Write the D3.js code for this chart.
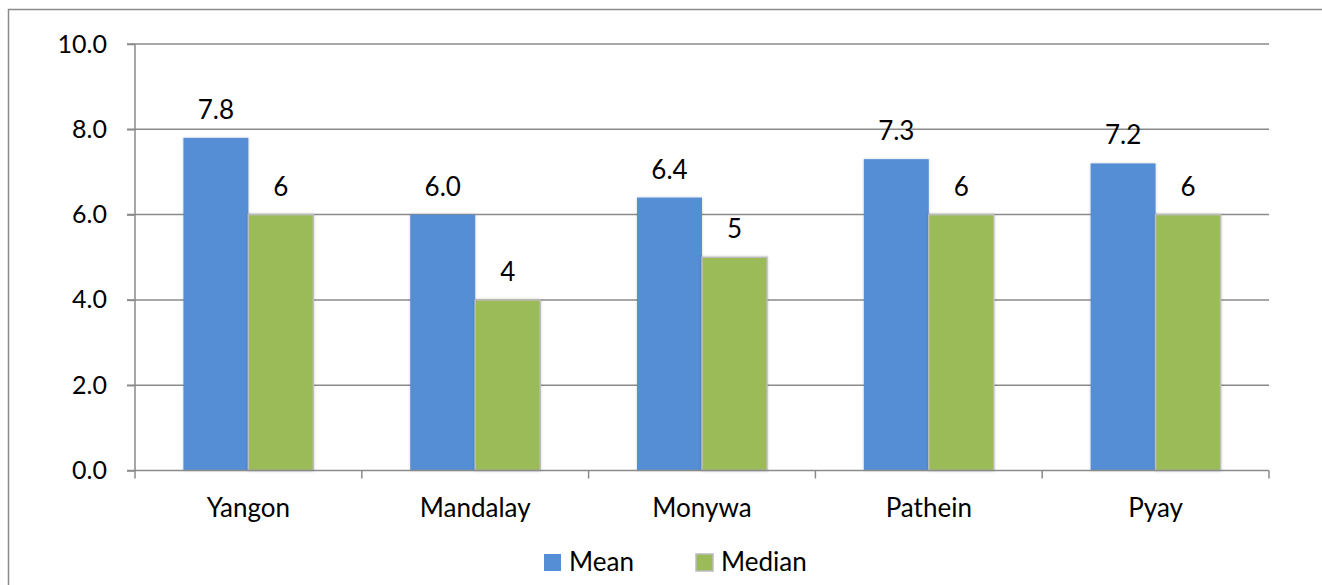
<!DOCTYPE html>
<html>
<head>
<meta charset="utf-8">
<script src="https://cdn.jsdelivr.net/npm/d3@7"></script>
<style>
  html, body { margin: 0; padding: 0; background: #fff; }
  svg { display: block; }
  text { font-family: Lato, "Open Sans", sans-serif; fill: #000; }
</style>
</head>
<body>
<svg id="chart" width="1322" height="585"></svg>
<script>
// Household size by city
const cities = ["Yangon", "Mandalay", "Monywa", "Pathein", "Pyay"];
const meanValues = [7.8, 6.0, 6.4, 7.3, 7.2];
const medianValues = [6, 4, 5, 6, 6];
const seriesNames = ["Mean", "Median"];
const yTicks = [0, 2, 4, 6, 8, 10];

const seriesColors = ["#558ed5", "#9bbb59"];
const seriesStroke = [null, "#bcbcbc"];
const labelFormat = [d3.format(".1f"), d3.format("d")];

const svg = d3.select("#chart");
const W = 1322, H = 585;
const plot = { left: 135, right: 1269, top: 44, bottom: 470.5 };

// Outer chart frame
svg.append("rect")
  .attr("x", 8.5).attr("y", 9.5)
  .attr("width", W).attr("height", H)
  .attr("fill", "none")
  .attr("stroke", "#8a8a8a")
  .attr("stroke-width", 1.5);

// Soft drop shadow used by the bars
const defs = svg.append("defs");
const f = defs.append("filter").attr("id", "barShadow")
  .attr("x", "-20%").attr("y", "-5%").attr("width", "140%").attr("height", "110%");
f.append("feGaussianBlur").attr("in", "SourceAlpha").attr("stdDeviation", 1.6).attr("result", "b");
f.append("feComponentTransfer").attr("in", "b").attr("result", "s")
  .append("feFuncA").attr("type", "linear").attr("slope", 0.18);
const m = f.append("feMerge");
m.append("feMergeNode").attr("in", "s");
m.append("feMergeNode").attr("in", "SourceGraphic");

const x = d3.scaleBand().domain(cities).range([plot.left, plot.right]).paddingInner(0).paddingOuter(0);
const inner = d3.scaleBand().domain(seriesNames).range([0, x.bandwidth()]).paddingInner(0).paddingOuter(0.745);
const y = d3.scaleLinear().domain([0, 10]).range([plot.bottom, plot.top]);

// Horizontal gridlines
svg.append("g").selectAll("line").data(yTicks.filter(d => d > 0)).join("line")
  .attr("x1", plot.left - 8).attr("x2", plot.right)
  .attr("y1", d => y(d)).attr("y2", d => y(d))
  .attr("stroke", "#8a8a8a").attr("stroke-width", 1.5);

// Y axis
const yAxis = svg.append("g").attr("transform", `translate(${plot.left},0)`)
  .call(d3.axisLeft(y).tickValues(yTicks).tickFormat(d3.format(".1f")).tickSize(8).tickPadding(20));
yAxis.select(".domain").attr("stroke", "#8a8a8a").attr("stroke-width", 1.5)
  .attr("d", `M0,${plot.top}V${plot.bottom}`);
yAxis.selectAll(".tick line").attr("stroke", "#8a8a8a").attr("stroke-width", 1.5);
yAxis.selectAll(".tick text").style("font-size", "25px").attr("fill", "#000")
  .style("font-family", "Lato, 'Open Sans', sans-serif");

// Bars
const groups = svg.append("g").selectAll("g").data(cities).join("g")
  .attr("transform", d => `translate(${x(d)},0)`);

const barData = (c, i) => [meanValues[i], medianValues[i]].map((v, k) => ({ series: seriesNames[k], k, v }));

groups.selectAll("rect").data((c, i) => barData(c, i)).join("rect")
  .attr("x", d => inner(d.series))
  .attr("y", d => y(d.v))
  .attr("width", inner.bandwidth())
  .attr("height", d => y(0) - y(d.v))
  .attr("fill", d => seriesColors[d.k])
  .attr("stroke", d => seriesStroke[d.k] || "none")
  .attr("stroke-width", 1.5)
  .attr("filter", "url(#barShadow)");

// Value labels
groups.selectAll("text.val").data((c, i) => barData(c, i)).join("text")
  .attr("class", "val")
  .attr("x", d => inner(d.series) + inner.bandwidth() / 2)
  .attr("y", d => y(d.v) - 19)
  .attr("text-anchor", "middle")
  .style("font-size", "26px")
  .text(d => labelFormat[d.k](d.v));

// X axis baseline with category ticks
const xAxis = svg.append("g").attr("transform", `translate(0,${plot.bottom})`);
xAxis.append("line").attr("x1", plot.left - 8).attr("x2", plot.right)
  .attr("stroke", "#8a8a8a").attr("stroke-width", 1.5);
const edges = cities.map(c => x(c)).concat([x(cities[cities.length - 1]) + x.bandwidth()]);
xAxis.selectAll("line.tk").data(edges).join("line").attr("class", "tk")
  .attr("x1", d => d).attr("x2", d => d).attr("y1", 0).attr("y2", 8)
  .attr("stroke", "#8a8a8a").attr("stroke-width", 1.5);
xAxis.selectAll("text").data(cities).join("text")
  .attr("x", d => x(d) + x.bandwidth() / 2)
  .attr("y", 46.5)
  .attr("text-anchor", "middle")
  .style("font-size", "26px")
  .text(d => d);

// Legend
const legendX = [544, 696];
const legend = svg.append("g").selectAll("g").data(seriesNames).join("g")
  .attr("transform", (d, i) => `translate(${legendX[i]},554)`);
legend.append("rect")
  .attr("width", 17).attr("height", 17)
  .attr("fill", (d, i) => seriesColors[i])
  .attr("stroke", (d, i) => seriesStroke[i] || "none")
  .attr("stroke-width", 1.5);
legend.append("text")
  .attr("x", 25).attr("y", 17)
  .style("font-size", "26px")
  .text(d => d);
</script>
</body>
</html>
